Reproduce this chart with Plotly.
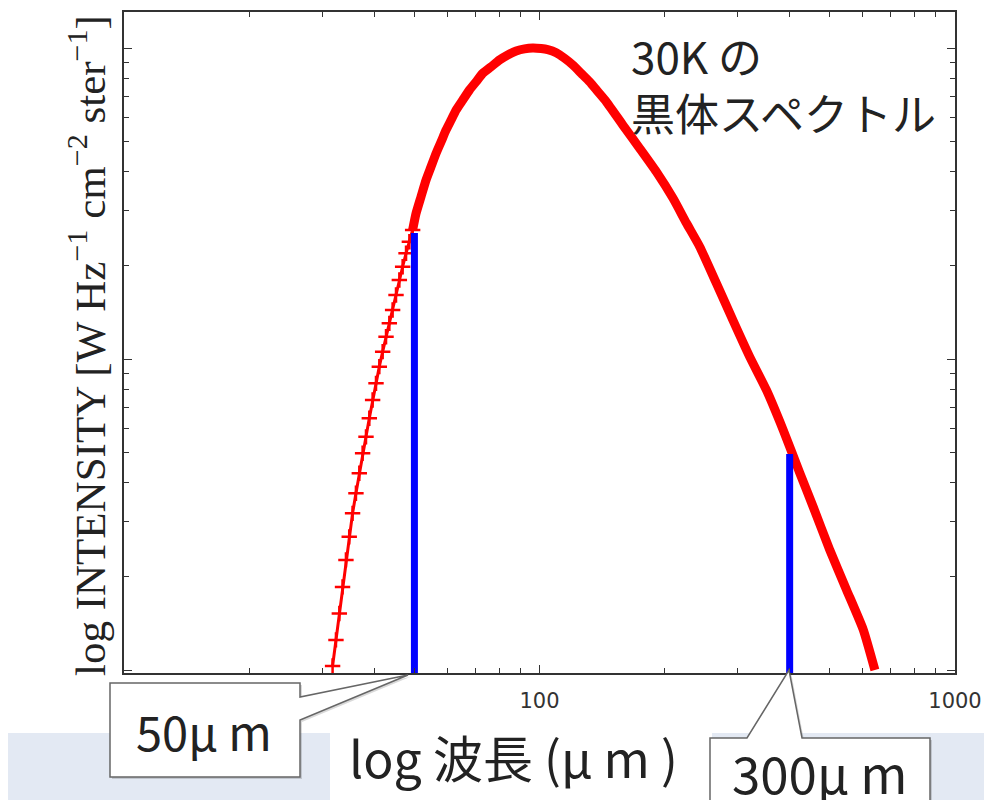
import plotly.graph_objects as go

# ---- data ----
# left (short-wavelength) side, drawn as separate '+' markers in the original
wl_sparse = [31.77, 32.37, 32.98, 33.57, 34.21, 34.84, 35.49, 36.16, 36.84, 37.52,
             38.23, 38.94, 39.66, 40.41, 41.16, 41.93, 42.72, 43.51, 44.31, 45.15,
             45.99, 46.84, 47.73, 48.62, 49.51]
int_sparse = [0.0103, 0.0125, 0.0152, 0.0185, 0.0226, 0.0268, 0.0319, 0.0370, 0.0429, 0.0498,
              0.0562, 0.0645, 0.0738, 0.0835, 0.0945, 0.1056, 0.1179, 0.1302, 0.1437, 0.1606,
              0.1795, 0.1980, 0.2187, 0.2383, 0.2600]

# dense part (thick red curve)
wl_dense = [49.51, 50.45, 51.86, 53.33, 54.83, 56.37, 57.96, 59.59, 61.27, 63.00,
            65.37, 67.83, 70.37, 73.03, 76.49, 80.09, 83.86, 87.87, 92.03, 96.36,
            100.9, 104.7, 109.7, 114.9, 120.3, 126.0, 132.0, 138.2, 144.8, 158.7,
            174.2, 191.1, 209.6, 225.7, 243.0, 266.6, 292.3, 320.6, 351.8, 385.8,
            423.2, 455.6, 499.7, 548.3, 601.2, 641.5]
int_dense = [0.2600, 0.2939, 0.3326, 0.3763, 0.4153, 0.4585, 0.4996, 0.5450, 0.5868, 0.6320,
             0.6806, 0.7328, 0.7791, 0.8292, 0.8706, 0.9150, 0.9500, 0.9780, 0.9940, 1.0000,
             0.9960, 0.9880, 0.9660, 0.9270, 0.8820, 0.8290, 0.7790, 0.7240, 0.6720, 0.5655,
             0.4760, 0.4000, 0.3287, 0.2737, 0.2297, 0.1750, 0.1330, 0.1016, 0.0794, 0.0592,
             0.0430, 0.0335, 0.0243, 0.0181, 0.0135, 0.0100]

band_wavelength = [50, 400]
band_top = [0.254, 0.0495]
band_labels = ["50μ m", "300μ m"]

x_tickvals = [10, 100, 1000]
x_ticktext = ["", "100", "1000"]
x_minor = [20, 30, 40, 50, 60, 70, 80, 90, 200, 300, 400, 500, 600, 700, 800, 900]
y_tickvals = [0.01, 0.1, 1]
y_minor = [0.02, 0.03, 0.04, 0.05, 0.06, 0.07, 0.08, 0.09,
           0.2, 0.3, 0.4, 0.5, 0.6, 0.7, 0.8, 0.9]

x_range_log = [1.0, 3.0]
y_range_log = [-2.0096, 0.1158]

# ---- layout geometry helpers (pixels -> paper) ----
L, R, T, B = 124, 955, 12, 673
def px(p):
    return (p - L) / (R - L)
def py(p):
    return (B - p) / (B - T)

fig = go.Figure()

fig.add_trace(go.Scatter(
    x=wl_sparse, y=int_sparse, mode="lines+markers",
    line=dict(color="#FF0000", width=3),
    marker=dict(symbol="cross-thin", size=11, line=dict(color="#FF0000", width=2.5)),
    showlegend=False, hoverinfo="skip"))
fig.add_trace(go.Scatter(
    x=wl_dense, y=int_dense, mode="lines",
    line=dict(color="#FF0000", width=9, shape="spline", smoothing=0.5),
    showlegend=False, hoverinfo="skip"))

y_floor = 10 ** y_range_log[0]
for bx, bt in zip(band_wavelength, band_top):
    fig.add_trace(go.Scatter(
        x=[bx, bx], y=[y_floor, bt], mode="lines",
        line=dict(color="#0000FF", width=7),
        showlegend=False, hoverinfo="skip"))

axis_common = dict(showline=True, linecolor="#333333", linewidth=1.5, mirror="allticks",
                   ticks="inside", ticklen=8, tickwidth=1.3, tickcolor="#333333",
                   showgrid=False, zeroline=False, automargin=False)

fig.update_xaxes(type="log", range=x_range_log, tickvals=x_tickvals, ticktext=x_ticktext,
                 tickfont=dict(family="DejaVu Sans", size=21, color="#333333"),
                 ticklabelstandoff=8,
                 minor=dict(tickvals=x_minor, ticks="inside", ticklen=5, tickcolor="#333333",
                            tickwidth=1.2, showgrid=False),
                 **axis_common)
fig.update_yaxes(type="log", range=y_range_log, tickvals=y_tickvals, showticklabels=False,
                 minor=dict(tickvals=y_minor, ticks="inside", ticklen=5, tickcolor="#333333",
                            tickwidth=1.2, showgrid=False),
                 **axis_common)

shapes = []
# bottom light band and white title area
shapes.append(dict(type="rect", xref="paper", yref="paper", x0=px(8), x1=px(990),
                   y0=py(805), y1=py(733), fillcolor="#E3E9F3", line=dict(width=0), layer="below"))
shapes.append(dict(type="rect", xref="paper", yref="paper", x0=px(330), x1=px(712),
                   y0=py(805), y1=py(729), fillcolor="white", line=dict(width=0), layer="below"))

def poly(points):
    return "M " + " L ".join(f"{px(a):.5f},{py(b):.5f}" for a, b in points) + " Z"

callout1 = [(110, 683), (300, 683), (300, 697), (408, 675), (300, 720), (300, 777), (110, 777)]
callout2 = [(710, 738), (747, 738), (789, 670), (802, 738), (930, 738), (930, 806), (710, 806)]
for pts in (callout1, callout2):
    shadow = [(a + 2, b + 2) for a, b in pts]
    shapes.append(dict(type="path", xref="paper", yref="paper", path=poly(shadow),
                       fillcolor="rgba(0,0,0,0.15)", line=dict(width=0), layer="above"))
    shapes.append(dict(type="path", xref="paper", yref="paper", path=poly(pts),
                       fillcolor="white", line=dict(color="#666666", width=1.5), layer="above"))

cjk = "Noto Sans CJK JP"
annotations = [
    dict(text=band_labels[0], xref="paper", yref="paper", x=px(204), y=py(730),
         xanchor="center", yanchor="middle", showarrow=False,
         font=dict(family=cjk, size=47, color="#222222")),
    dict(text=band_labels[1], xref="paper", yref="paper", x=px(820), y=py(772),
         xanchor="center", yanchor="middle", showarrow=False,
         font=dict(family=cjk, size=51, color="#222222")),
    dict(text="log 波長 (μ m )", xref="paper", yref="paper", x=px(513), y=py(756),
         xanchor="center", yanchor="middle", showarrow=False,
         font=dict(family=cjk, size=50, color="#222222")),
    dict(text="30K の<br>黒体スペクトル", xref="paper", yref="paper", x=px(629), y=py(84),
         xanchor="left", yanchor="middle", align="left", showarrow=False,
         font=dict(family=cjk, size=44, color="#222222")),
    dict(text="log INTENSITY [W Hz<sup>−1</sup> cm<sup>−2</sup> ster<sup>−1</sup>]",
         xref="paper", yref="paper", x=px(87), y=py(346), textangle=-90,
         xanchor="center", yanchor="middle", showarrow=False,
         font=dict(family="Liberation Serif", size=43, color="#222222")),
]

fig.update_layout(width=984, height=800, autosize=False,
                  margin=dict(l=L, r=984 - R, t=T, b=800 - B),
                  paper_bgcolor="white", plot_bgcolor="white",
                  shapes=shapes, annotations=annotations, showlegend=False)

fig.write_html("out.html",
               config={"responsive": False, "displayModeBar": False},
               post_script="document.body.style.margin='0';document.body.style.overflow='hidden';")
